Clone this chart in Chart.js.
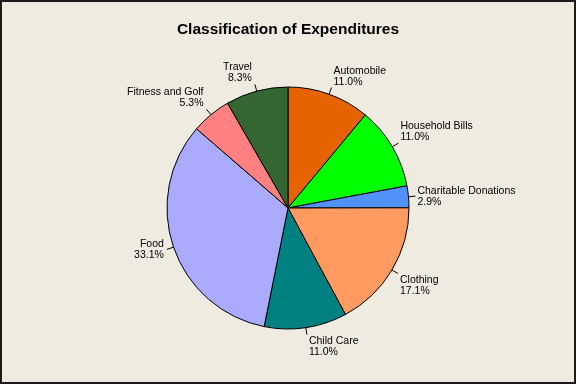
<!DOCTYPE html>
<html>
<head>
<meta charset="utf-8">
<script src="https://cdn.jsdelivr.net/npm/chart.js@4/dist/chart.umd.min.js"></script>
<style>
html,body{margin:0;padding:0;background:#EFEBE1;}
#wrap{width:576px;height:384px;position:relative;}
</style>
</head>
<body>
<div id="wrap"><canvas id="c" width="576" height="384"></canvas></div>
<script>
const categories = ["Automobile", "Household Bills", "Charitable Donations", "Clothing", "Child Care", "Food", "Fitness and Golf", "Travel"];
const percents = [11.0, 11.0, 2.9, 17.1, 11.0, 33.1, 5.3, 8.3];
const sliceColors = ["#E66400", "#00FF00", "#5291F7", "#FF9A60", "#008080", "#AAAAFF", "#FF8080", "#336633"];
const chartTitle = "Classification of Expenditures";

const bgPlugin = {
  id: 'bg',
  beforeDraw(chart) {
    const ctx = chart.ctx;
    ctx.save();
    ctx.fillStyle = '#EFEBE1';
    ctx.fillRect(0, 0, chart.width, chart.height);
    ctx.restore();
  },
  afterDraw(chart) {
    const ctx = chart.ctx;
    ctx.save();
    ctx.strokeStyle = '#1a1a1a';
    ctx.lineWidth = 2;
    ctx.strokeRect(1, 1, chart.width - 2, chart.height - 2);
    ctx.restore();
  }
};

const labelPlugin = {
  id: 'sliceLabels',
  afterDatasetsDraw(chart) {
    const ctx = chart.ctx;
    const meta = chart.getDatasetMeta(0);
    ctx.save();
    ctx.font = '10.5px "Liberation Sans", Arial, sans-serif';
    ctx.fillStyle = '#000';
    ctx.strokeStyle = '#000';
    ctx.lineWidth = 1;
    meta.data.forEach((arc, i) => {
      const p = arc.getProps(['x', 'y', 'startAngle', 'endAngle', 'outerRadius'], true);
      const mid = (p.startAngle + p.endAngle) / 2;
      const c = Math.cos(mid), s = Math.sin(mid);
      const sx = p.x + c * p.outerRadius, sy = p.y + s * p.outerRadius;
      const ex = p.x + c * (p.outerRadius + 7), ey = p.y + s * (p.outerRadius + 7);
      ctx.beginPath();
      ctx.moveTo(sx, sy);
      ctx.lineTo(ex, ey);
      ctx.stroke();
      const lines = [categories[i], percents[i].toFixed(1) + '%'];
      let tx, align;
      if (c >= 0) { align = 'left'; tx = ex + 2; } else { align = 'right'; tx = ex - 3; }
      ctx.textAlign = align;
      ctx.textBaseline = 'middle';
      let y1;
      if (s < -0.4) { y1 = ey - 17; }
      else if (s > 0.4) { y1 = ey + 6.5; }
      else { y1 = ey - 5.5; }
      ctx.fillText(lines[0], tx, y1);
      ctx.fillText(lines[1], tx, y1 + 11);
    });
    ctx.restore();
  }
};

new Chart(document.getElementById('c'), {
  type: 'pie',
  data: {
    labels: categories,
    datasets: [{
      data: percents,
      backgroundColor: sliceColors,
      borderColor: '#000',
      borderWidth: 1
    }]
  },
  options: {
    responsive: false,
    animation: false,
    radius: 121,
    layout: { padding: { top: 0, bottom: 7.6, left: 0, right: 0 } },
    plugins: {
      legend: { display: false },
      tooltip: { enabled: false },
      title: {
        display: true,
        text: chartTitle,
        color: '#000',
        font: { family: '"Liberation Sans", Arial, sans-serif', size: 15.5, weight: 'bold' },
        padding: { top: 20, bottom: 1 }
      }
    }
  },
  plugins: [bgPlugin, labelPlugin]
});
</script>
</body>
</html>
